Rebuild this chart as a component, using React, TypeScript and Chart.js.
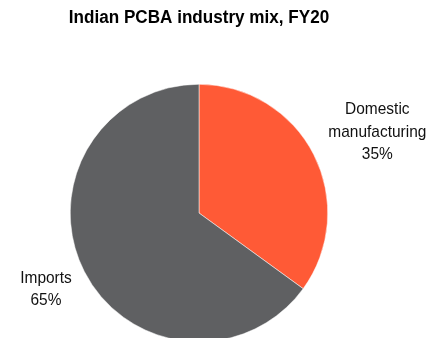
import React, { useEffect, useRef } from "react";
import { Chart, registerables } from "chart.js";

Chart.register(...registerables);

const title = "Indian PCBA industry mix, FY20";
const categories = ["Domestic manufacturing", "Imports"];
const labelLines = [["Domestic", "manufacturing"], ["Imports"]];
const values = [35, 65];
const colors = ["#FF5A36", "#5F6062"];

const FONT = '"Liberation Sans", Arial, sans-serif';
// label placement offsets from the slice's rim mid-point (style only)
const labelOffsets = [
  [63.6, -23.9],
  [-38.3, 16.7],
];

function narrowText(ctx: any, text: string, x: number, y: number, sx: number) {
  ctx.save();
  ctx.translate(x, y);
  ctx.scale(sx, 1);
  ctx.fillText(text, 0, 0);
  ctx.restore();
}

const labelPlugin = {
  id: "pieLabels",
  afterDraw(chart: any) {
    const ctx = chart.ctx;
    ctx.save();
    ctx.fillStyle = "#000";
    ctx.font = `bold 18px ${FONT}`;
    ctx.textAlign = "center";
    ctx.textBaseline = "alphabetic";
    narrowText(ctx, title, 199, 23.3, 0.95);

    const meta = chart.getDatasetMeta(0);
    const total = values.reduce((a, b) => a + b, 0);
    ctx.font = `17px ${FONT}`;
    ctx.fillStyle = "#111";
    meta.data.forEach((arc: any, i: number) => {
      const mid = (arc.startAngle + arc.endAngle) / 2;
      const rx = arc.x + Math.cos(mid) * arc.outerRadius;
      const ry = arc.y + Math.sin(mid) * arc.outerRadius;
      const cx = rx + labelOffsets[i][0];
      const cy = ry + labelOffsets[i][1];
      const lines = [...labelLines[i], Math.round((values[i] / total) * 100) + "%"];
      const lh = 22.5;
      const y0 = cy + 6 - ((lines.length - 1) * lh) / 2;
      lines.forEach((t, j) => narrowText(ctx, t, cx, y0 + j * lh, 0.91));
    });
    ctx.restore();
  },
};

export default function App() {
  const ref = useRef<HTMLCanvasElement>(null);
  useEffect(() => {
    document.body.style.margin = "0";
    const chart = new Chart(ref.current!, {
      type: "pie",
      data: {
        labels: categories,
        datasets: [
          {
            data: values,
            backgroundColor: colors,
            borderColor: "#ffffff",
            borderWidth: 0.5,
          },
        ],
      },
      options: {
        animation: false,
        responsive: false,
        layout: { padding: { top: 84, bottom: 4, left: 70, right: 118 } },
        plugins: { legend: { display: false }, tooltip: { enabled: false }, title: { display: false } },
      },
      plugins: [labelPlugin],
    });
    return () => chart.destroy();
  }, []);
  return (
    <div style={{ width: 446, height: 338, background: "#fff", overflow: "hidden" }}>
      <canvas ref={ref} width={446} height={346} style={{ display: "block" }} />
    </div>
  );
}
